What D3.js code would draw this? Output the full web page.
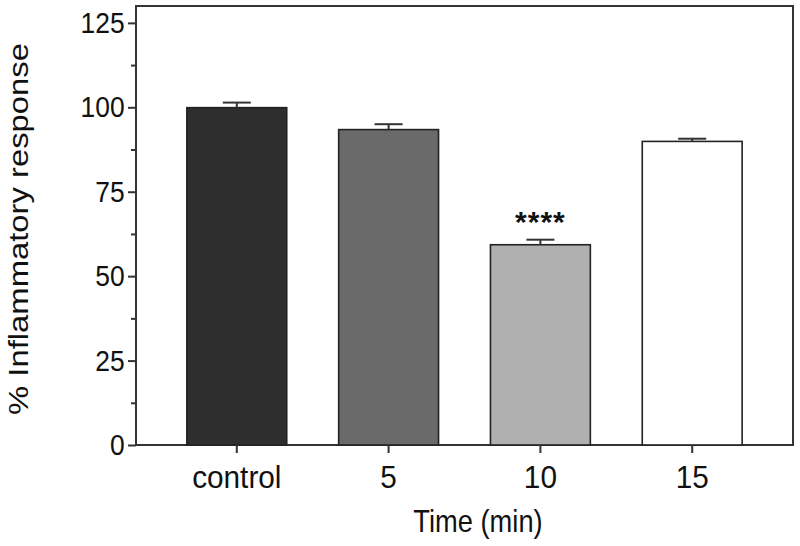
<!DOCTYPE html>
<html>
<head>
<meta charset="utf-8">
<script src="https://cdn.jsdelivr.net/npm/d3@7"></script>
<style>
  html, body { margin: 0; padding: 0; background: #fff; }
  svg { display: block; }
  text { font-family: "Liberation Sans", Arial, Helvetica, sans-serif; fill: #111; }
</style>
</head>
<body>
<svg id="chart" width="800" height="546"></svg>
<script>
// ---- data ----
const categories = ["control", "5", "10", "15"];
const means = [99.9, 93.4, 59.3, 89.9];
const errors = [1.5, 1.6, 1.5, 0.8];
const significance = ["", "", "****", ""];
const yTicks = [0, 25, 50, 75, 100, 125];
const yMinorTicks = [12.5, 37.5, 62.5, 87.5, 112.5];
const barColors = ["#2e2e2e", "#6a6a6a", "#b0b0b0", "#ffffff"];
const xTitle = "Time (min)";
const yTitle = "% Inflammatory response";

// ---- layout ----
const mLeft = 136, mRight = 793, mTop = 6, mBottom = 445;
const sx = 0.88; // horizontal squeeze of the lettering

const svg = d3.select("#chart");

const x = d3.scaleBand()
  .domain(categories)
  .range([mLeft, mRight])
  .paddingInner(0.342)
  .paddingOuter(0.335);

const y = d3.scaleLinear().domain([0, 130]).range([mBottom, mTop]);

const axisColor = "#333";

// frame
svg.append("rect")
  .attr("x", mLeft).attr("y", mTop)
  .attr("width", mRight - mLeft).attr("height", mBottom - mTop)
  .attr("fill", "none").attr("stroke", axisColor).attr("stroke-width", 2);

// bars
svg.append("g").selectAll("rect")
  .data(categories)
  .join("rect")
  .attr("x", d => x(d))
  .attr("y", (d, i) => y(means[i]))
  .attr("width", x.bandwidth())
  .attr("height", (d, i) => y(0) - y(means[i]))
  .attr("fill", (d, i) => barColors[i])
  .attr("stroke", "#222")
  .attr("stroke-width", 1.6);

// error bars (upper only)
const capW = 28;
const eg = svg.append("g").attr("stroke", "#333").attr("stroke-width", 2);
categories.forEach((c, i) => {
  const cx = x(c) + x.bandwidth() / 2;
  eg.append("line")
    .attr("x1", cx).attr("x2", cx)
    .attr("y1", y(means[i])).attr("y2", y(means[i] + errors[i]));
  eg.append("line")
    .attr("x1", cx - capW / 2).attr("x2", cx + capW / 2)
    .attr("y1", y(means[i] + errors[i])).attr("y2", y(means[i] + errors[i]));
});

// significance
svg.append("g").selectAll("text")
  .data(categories)
  .join("text")
  .attr("x", d => x(d) + x.bandwidth() / 2)
  .attr("y", (d, i) => y(means[i] + errors[i]) - 8)
  .attr("text-anchor", "middle")
  .attr("font-size", 30)
  .attr("letter-spacing", 1)
  .attr("font-weight", "bold")
  .text((d, i) => significance[i]);

// y axis
const yAxis = d3.axisLeft(y).tickValues(yTicks).tickSize(8).tickPadding(5);
const yg = svg.append("g").attr("transform", `translate(${mLeft},0)`).call(yAxis);
yg.select(".domain").remove();
yg.selectAll(".tick line").attr("stroke", axisColor).attr("stroke-width", 2);
yg.selectAll(".tick text").attr("font-size", 30).attr("fill", "#111")
  .attr("font-family", "Liberation Sans, Arial, sans-serif")
  .attr("transform", `scale(${sx},1)`);

const yMinor = d3.axisLeft(y).tickValues(yMinorTicks).tickSize(5).tickFormat("");
const ymg = svg.append("g").attr("transform", `translate(${mLeft},0)`).call(yMinor);
ymg.select(".domain").remove();
ymg.selectAll(".tick line").attr("stroke", axisColor).attr("stroke-width", 2);

// x axis
const xAxis = d3.axisBottom(x).tickSize(8).tickPadding(13);
const xg = svg.append("g").attr("transform", `translate(0,${mBottom})`).call(xAxis);
xg.select(".domain").remove();
xg.selectAll(".tick line").attr("stroke", axisColor).attr("stroke-width", 2);
xg.selectAll(".tick text").attr("font-size", 31).attr("fill", "#111")
  .attr("font-family", "Liberation Sans, Arial, sans-serif")
  .attr("transform", `scale(0.96,1)`);

// axis titles
svg.append("text")
  .attr("transform", `translate(478,532) scale(${sx},1)`)
  .attr("text-anchor", "middle")
  .attr("font-size", 31)
  .text(xTitle);

svg.append("text")
  .attr("transform", `translate(28,229) rotate(-90) scale(1,${sx})`)
  .attr("text-anchor", "middle")
  .attr("font-size", 31)
  .attr("textLength", 372)
  .attr("lengthAdjust", "spacingAndGlyphs")
  .text(yTitle);
</script>
</body>
</html>
